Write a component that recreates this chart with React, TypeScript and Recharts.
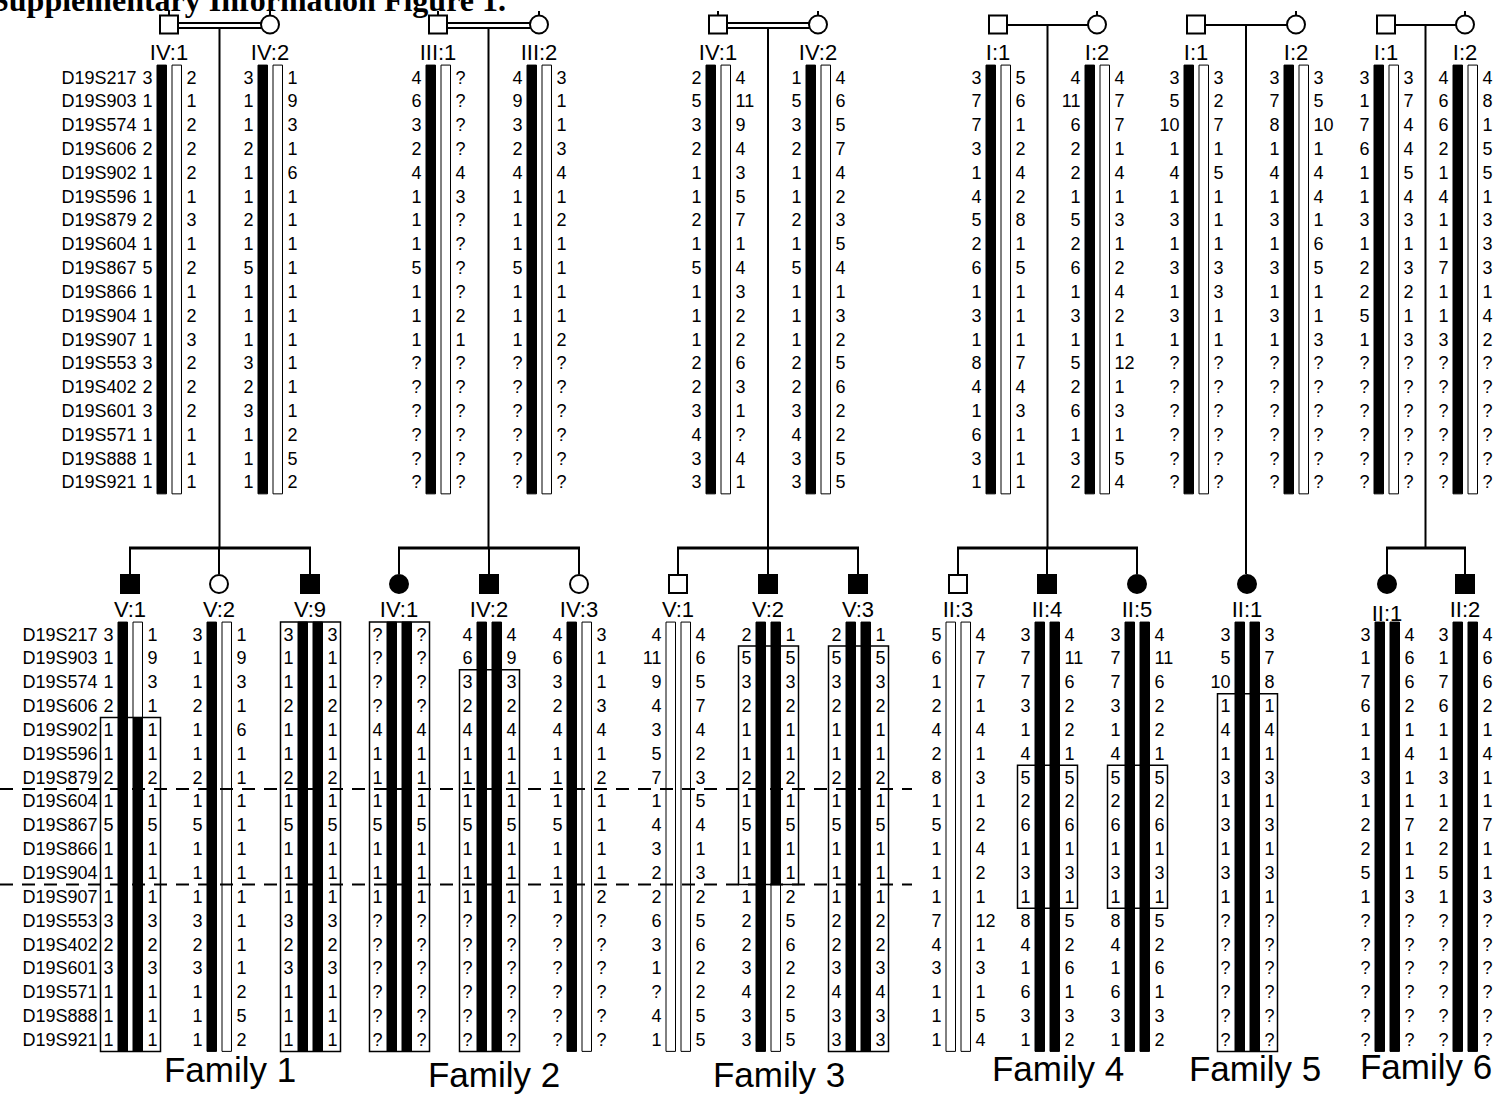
import React from 'react';
import { ScatterChart, Scatter, XAxis, YAxis, ReferenceArea, ReferenceLine, ReferenceDot } from 'recharts';

const h = (s: string) => s.split(' ');

const MARKERS = ['D19S217', 'D19S903', 'D19S574', 'D19S606', 'D19S902', 'D19S596', 'D19S879', 'D19S604', 'D19S867', 'D19S866', 'D19S904', 'D19S907', 'D19S553', 'D19S402', 'D19S601', 'D19S571', 'D19S888', 'D19S921'];

// Family 1
const F1_IV1_A = h('3 1 1 2 1 1 2 1 5 1 1 1 3 2 3 1 1 1');
const F1_IV1_B = h('2 1 2 2 2 1 3 1 2 1 2 3 2 2 2 1 1 1');
const F1_IV2_A = h('3 1 1 2 1 1 2 1 5 1 1 1 3 2 3 1 1 1');
const F1_IV2_B = h('1 9 3 1 6 1 1 1 1 1 1 1 1 1 1 2 5 2');
const F1_V1_A = h('3 1 1 2 1 1 2 1 5 1 1 1 3 2 3 1 1 1');
const F1_V1_B = h('1 9 3 1 1 1 2 1 5 1 1 1 3 2 3 1 1 1');
const F1_V2_A = h('3 1 1 2 1 1 2 1 5 1 1 1 3 2 3 1 1 1');
const F1_V2_B = h('1 9 3 1 6 1 1 1 1 1 1 1 1 1 1 2 5 2');
const F1_V9_A = h('3 1 1 2 1 1 2 1 5 1 1 1 3 2 3 1 1 1');
const F1_V9_B = h('3 1 1 2 1 1 2 1 5 1 1 1 3 2 3 1 1 1');
// Family 2
const F2_III1_A = h('4 6 3 2 4 1 1 1 5 1 1 1 ? ? ? ? ? ?');
const F2_III1_B = h('? ? ? ? 4 3 ? ? ? ? 2 1 ? ? ? ? ? ?');
const F2_III2_A = h('4 9 3 2 4 1 1 1 5 1 1 1 ? ? ? ? ? ?');
const F2_III2_B = h('3 1 1 3 4 1 2 1 1 1 1 2 ? ? ? ? ? ?');
const F2_IV1_A = h('? ? ? ? 4 1 1 1 5 1 1 1 ? ? ? ? ? ?');
const F2_IV1_B = h('? ? ? ? 4 1 1 1 5 1 1 1 ? ? ? ? ? ?');
const F2_IV2_A = h('4 6 3 2 4 1 1 1 5 1 1 1 ? ? ? ? ? ?');
const F2_IV2_B = h('4 9 3 2 4 1 1 1 5 1 1 1 ? ? ? ? ? ?');
const F2_IV3_A = h('4 6 3 2 4 1 1 1 5 1 1 1 ? ? ? ? ? ?');
const F2_IV3_B = h('3 1 1 3 4 1 2 1 1 1 1 2 ? ? ? ? ? ?');
// Family 3
const F3_IV1_A = h('2 5 3 2 1 1 2 1 5 1 1 1 2 2 3 4 3 3');
const F3_IV1_B = h('4 11 9 4 3 5 7 1 4 3 2 2 6 3 1 ? 4 1');
const F3_IV2_A = h('1 5 3 2 1 1 2 1 5 1 1 1 2 2 3 4 3 3');
const F3_IV2_B = h('4 6 5 7 4 2 3 5 4 1 3 2 5 6 2 2 5 5');
const F3_V1_A = h('4 11 9 4 3 5 7 1 4 3 2 2 6 3 1 ? 4 1');
const F3_V1_B = h('4 6 5 7 4 2 3 5 4 1 3 2 5 6 2 2 5 5');
const F3_V2_A = h('2 5 3 2 1 1 2 1 5 1 1 1 2 2 3 4 3 3');
const F3_V2_B = h('1 5 3 2 1 1 2 1 5 1 1 2 5 6 2 2 5 5');
const F3_V3_A = h('2 5 3 2 1 1 2 1 5 1 1 1 2 2 3 4 3 3');
const F3_V3_B = h('1 5 3 2 1 1 2 1 5 1 1 1 2 2 3 4 3 3');
// Family 4
const F4_I1_A = h('3 7 7 3 1 4 5 2 6 1 3 1 8 4 1 6 3 1');
const F4_I1_B = h('5 6 1 2 4 2 8 1 5 1 1 1 7 4 3 1 1 1');
const F4_I2_A = h('4 11 6 2 2 1 5 2 6 1 3 1 5 2 6 1 3 2');
const F4_I2_B = h('4 7 7 1 4 1 3 1 2 4 2 1 12 1 3 1 5 4');
const F4_II3_A = h('5 6 1 2 4 2 8 1 5 1 1 1 7 4 3 1 1 1');
const F4_II3_B = h('4 7 7 1 4 1 3 1 2 4 2 1 12 1 3 1 5 4');
const F4_II4_A = h('3 7 7 3 1 4 5 2 6 1 3 1 8 4 1 6 3 1');
const F4_II4_B = h('4 11 6 2 2 1 5 2 6 1 3 1 5 2 6 1 3 2');
const F4_II5_A = h('3 7 7 3 1 4 5 2 6 1 3 1 8 4 1 6 3 1');
const F4_II5_B = h('4 11 6 2 2 1 5 2 6 1 3 1 5 2 6 1 3 2');
// Family 5
const F5_I1_A = h('3 5 10 1 4 1 3 1 3 1 3 1 ? ? ? ? ? ?');
const F5_I1_B = h('3 2 7 1 5 1 1 1 3 3 1 1 ? ? ? ? ? ?');
const F5_I2_A = h('3 7 8 1 4 1 3 1 3 1 3 1 ? ? ? ? ? ?');
const F5_I2_B = h('3 5 10 1 4 4 1 6 5 1 1 3 ? ? ? ? ? ?');
const F5_II1_A = h('3 5 10 1 4 1 3 1 3 1 3 1 ? ? ? ? ? ?');
const F5_II1_B = h('3 7 8 1 4 1 3 1 3 1 3 1 ? ? ? ? ? ?');
// Family 6
const F6_I1_A = h('3 1 7 6 1 1 3 1 2 2 5 1 ? ? ? ? ? ?');
const F6_I1_B = h('3 7 4 4 5 4 3 1 3 2 1 3 ? ? ? ? ? ?');
const F6_I2_A = h('4 6 6 2 1 4 1 1 7 1 1 3 ? ? ? ? ? ?');
const F6_I2_B = h('4 8 1 5 5 1 3 3 3 1 4 2 ? ? ? ? ? ?');
const F6_II1_A = h('3 1 7 6 1 1 3 1 2 2 5 1 ? ? ? ? ? ?');
const F6_II1_B = h('4 6 6 2 1 4 1 1 7 1 1 3 ? ? ? ? ? ?');
const F6_II2_A = h('3 1 7 6 1 1 3 1 2 2 5 1 ? ? ? ? ? ?');
const F6_II2_B = h('4 6 6 2 1 4 1 1 7 1 1 3 ? ? ? ? ? ?');

const FAMILY_NAMES = ['Family 1', 'Family 2', 'Family 3', 'Family 4', 'Family 5', 'Family 6'];
const TITLE = 'Supplementary Information Figure 1.';

// ---------- layout ----------
const W = 1498;
const H = 1095;
type Tier = 'top' | 'bottom';
const TIERS: Record<Tier, { row0: number; step: number; symY: number; labelY: number }> = {
  top: { row0: 77, step: 23.82, symY: 24.5, labelY: 60 },
  bottom: { row0: 634, step: 23.85, symY: 584, labelY: 617 },
};
const rowY = (t: Tier, r: number) => TIERS[t].row0 + r * TIERS[t].step;

type Seg = [string, number, number];
const K: Seg[] = [['k', 0, 17]];
const Wt: Seg[] = [['w', 0, 17]];

interface Person {
  fam: number; tier: Tier; label: string; X: number; sex: 'm' | 'f'; aff: boolean;
  a: string[]; b: string[]; sa: Seg[]; sb: Seg[]; box?: [number, number]; markers?: boolean; labelDy?: number;
}

const PEOPLE: Person[] = [
  { fam: 0, tier: 'top', label: 'IV:1', X: 157, sex: 'm', aff: false, a: F1_IV1_A, b: F1_IV1_B, sa: K, sb: Wt, markers: true },
  { fam: 0, tier: 'top', label: 'IV:2', X: 258, sex: 'f', aff: false, a: F1_IV2_A, b: F1_IV2_B, sa: K, sb: Wt },
  { fam: 1, tier: 'top', label: 'III:1', X: 426, sex: 'm', aff: false, a: F2_III1_A, b: F2_III1_B, sa: K, sb: Wt },
  { fam: 1, tier: 'top', label: 'III:2', X: 527, sex: 'f', aff: false, a: F2_III2_A, b: F2_III2_B, sa: K, sb: Wt },
  { fam: 2, tier: 'top', label: 'IV:1', X: 706, sex: 'm', aff: false, a: F3_IV1_A, b: F3_IV1_B, sa: K, sb: Wt },
  { fam: 2, tier: 'top', label: 'IV:2', X: 806, sex: 'f', aff: false, a: F3_IV2_A, b: F3_IV2_B, sa: K, sb: Wt },
  { fam: 3, tier: 'top', label: 'I:1', X: 986, sex: 'm', aff: false, a: F4_I1_A, b: F4_I1_B, sa: K, sb: Wt },
  { fam: 3, tier: 'top', label: 'I:2', X: 1085, sex: 'f', aff: false, a: F4_I2_A, b: F4_I2_B, sa: K, sb: Wt },
  { fam: 4, tier: 'top', label: 'I:1', X: 1184, sex: 'm', aff: false, a: F5_I1_A, b: F5_I1_B, sa: K, sb: Wt },
  { fam: 4, tier: 'top', label: 'I:2', X: 1284, sex: 'f', aff: false, a: F5_I2_A, b: F5_I2_B, sa: K, sb: Wt },
  { fam: 5, tier: 'top', label: 'I:1', X: 1374, sex: 'm', aff: false, a: F6_I1_A, b: F6_I1_B, sa: K, sb: Wt },
  { fam: 5, tier: 'top', label: 'I:2', X: 1453, sex: 'f', aff: false, a: F6_I2_A, b: F6_I2_B, sa: K, sb: Wt },

  { fam: 0, tier: 'bottom', label: 'V:1', X: 118, sex: 'm', aff: true, a: F1_V1_A, b: F1_V1_B, sa: K, sb: [['w', 0, 3], ['k', 4, 17]], box: [4, 17], markers: true },
  { fam: 0, tier: 'bottom', label: 'V:2', X: 207, sex: 'f', aff: false, a: F1_V2_A, b: F1_V2_B, sa: K, sb: Wt },
  { fam: 0, tier: 'bottom', label: 'V:9', X: 298, sex: 'm', aff: true, a: F1_V9_A, b: F1_V9_B, sa: K, sb: K, box: [0, 17] },
  { fam: 1, tier: 'bottom', label: 'IV:1', X: 387, sex: 'f', aff: true, a: F2_IV1_A, b: F2_IV1_B, sa: K, sb: K, box: [0, 17] },
  { fam: 1, tier: 'bottom', label: 'IV:2', X: 477, sex: 'm', aff: true, a: F2_IV2_A, b: F2_IV2_B, sa: K, sb: K, box: [2, 17] },
  { fam: 1, tier: 'bottom', label: 'IV:3', X: 567, sex: 'f', aff: false, a: F2_IV3_A, b: F2_IV3_B, sa: K, sb: Wt },
  { fam: 2, tier: 'bottom', label: 'V:1', X: 666, sex: 'm', aff: false, a: F3_V1_A, b: F3_V1_B, sa: Wt, sb: Wt },
  { fam: 2, tier: 'bottom', label: 'V:2', X: 756, sex: 'm', aff: true, a: F3_V2_A, b: F3_V2_B, sa: K, sb: [['k', 0, 10], ['w', 11, 17]], box: [1, 10] },
  { fam: 2, tier: 'bottom', label: 'V:3', X: 846, sex: 'm', aff: true, a: F3_V3_A, b: F3_V3_B, sa: K, sb: K, box: [1, 17] },
  { fam: 3, tier: 'bottom', label: 'II:3', X: 946, sex: 'm', aff: false, a: F4_II3_A, b: F4_II3_B, sa: Wt, sb: Wt },
  { fam: 3, tier: 'bottom', label: 'II:4', X: 1035, sex: 'm', aff: true, a: F4_II4_A, b: F4_II4_B, sa: K, sb: K, box: [6, 11] },
  { fam: 3, tier: 'bottom', label: 'II:5', X: 1125, sex: 'f', aff: true, a: F4_II5_A, b: F4_II5_B, sa: K, sb: K, box: [6, 11] },
  { fam: 4, tier: 'bottom', label: 'II:1', X: 1235, sex: 'f', aff: true, a: F5_II1_A, b: F5_II1_B, sa: K, sb: K, box: [3, 17] },
  { fam: 5, tier: 'bottom', label: 'II:1', X: 1375, sex: 'f', aff: true, a: F6_II1_A, b: F6_II1_B, sa: K, sb: K, labelDy: 4 },
  { fam: 5, tier: 'bottom', label: 'II:2', X: 1453, sex: 'm', aff: true, a: F6_II2_A, b: F6_II2_B, sa: K, sb: K },
];

const FAM_LAYOUT = [
  { double: true, stubs: 'both', lx: 230, ly: 1082 },
  { double: true, stubs: 'both', lx: 494, ly: 1087 },
  { double: true, stubs: 'both', lx: 779, ly: 1087 },
  { double: false, stubs: 'mother', lx: 1058, ly: 1081 },
  { double: false, stubs: 'mother', lx: 1255, ly: 1081 },
  { double: false, stubs: 'mother', lx: 1426, ly: 1079 },
];

const SIB_Y = 548;
const SANS = "'Liberation Sans', Arial, Helvetica, sans-serif";
const SERIF = "'Liberation Serif', 'Times New Roman', serif";
const cx = (p: Person) => p.X + 12;

// ---------- build marks ----------
interface TextPt { x: number; y: number; t: string; anchor: string; size: number; dy: number; dx?: number; weight?: string; family?: string }
interface Area { x1: number; x2: number; y1: number; y2: number; fill: string; stroke: string; sw: number }
interface Seg2 { x1: number; y1: number; x2: number; y2: number; sw: number; dash?: string }
interface Dot { x: number; y: number; fill: string }

const texts: TextPt[] = [];
const barAreas: Area[] = [];
const boxAreas: Area[] = [];
const symAreas: Area[] = [];
const dots: Dot[] = [];
const lines: Seg2[] = [];

PEOPLE.forEach((p) => {
  const T = TIERS[p.tier];
  for (let r = 0; r < 18; r++) {
    const y = rowY(p.tier, r);
    if (p.markers) texts.push({ x: p.X - 20.5, y, t: MARKERS[r], anchor: 'end', size: 18, dy: 6.5 });
    texts.push({ x: p.X - 4.5, y, t: p.a[r], anchor: 'end', size: 18, dy: 6.5 });
    texts.push({ x: p.X + 29.5, y, t: p.b[r], anchor: 'start', size: 18, dy: 6.5 });
  }
  texts.push({ x: cx(p), y: T.labelY + (p.labelDy || 0), t: p.label, anchor: 'middle', size: 22, dy: 0 });
  const half = T.step / 2;
  const addBar = (segs: Seg[], x0: number) =>
    segs.forEach(([c, r1, r2]) =>
      barAreas.push({
        x1: x0, x2: x0 + 9.5, y1: rowY(p.tier, r1) - half, y2: rowY(p.tier, r2) + half,
        fill: c === 'k' ? '#000' : '#fff', stroke: '#000', sw: 1,
      }),
    );
  addBar(p.sa, p.X);
  addBar(p.sb, p.X + 15);
  if (p.box) {
    boxAreas.push({
      x1: p.X - 17.5, x2: p.X + 42.5,
      y1: rowY(p.tier, p.box[0]) - half, y2: rowY(p.tier, p.box[1]) + half,
      fill: 'none', stroke: '#000', sw: 1.5,
    });
  }
  const c = cx(p);
  const fill = p.aff ? '#000' : '#fff';
  if (p.sex === 'm') symAreas.push({ x1: c - 9, x2: c + 9, y1: T.symY - 9, y2: T.symY + 9, fill, stroke: '#000', sw: 2 });
  else dots.push({ x: c, y: T.symY, fill });
});

FAM_LAYOUT.forEach((f, i) => {
  const parents = PEOPLE.filter((p) => p.fam === i && p.tier === 'top');
  const father = parents.find((p) => p.sex === 'm')!;
  const mother = parents.find((p) => p.sex === 'f')!;
  const fc = cx(father);
  const mc = cx(mother);
  const mid = (fc + mc) / 2;
  const sy = TIERS.top.symY;
  if (f.double) {
    lines.push({ x1: fc + 9, y1: sy - 1.5, x2: mc - 9, y2: sy - 1.5, sw: 2 });
    lines.push({ x1: fc + 9, y1: sy + 3.5, x2: mc - 9, y2: sy + 3.5, sw: 2 });
  } else {
    lines.push({ x1: fc + 9, y1: sy + 0.5, x2: mc - 9, y2: sy + 0.5, sw: 2 });
  }
  const kids = PEOPLE.filter((p) => p.fam === i && p.tier === 'bottom');
  const kidTop = TIERS.bottom.symY - 10;
  lines.push({ x1: mid, y1: sy + (f.double ? 4.5 : 1.5), x2: mid, y2: kids.length > 1 ? SIB_Y : kidTop, sw: 2 });
  if (f.stubs === 'both') lines.push({ x1: fc, y1: 11, x2: fc, y2: sy - 9, sw: 2 });
  lines.push({ x1: mc, y1: 11, x2: mc, y2: sy - 9, sw: 2 });
  if (kids.length > 1) {
    const xs = kids.map(cx);
    lines.push({ x1: Math.min(...xs) - 1, y1: SIB_Y, x2: Math.max(...xs) + 1, y2: SIB_Y, sw: 3 });
    xs.forEach((x) => lines.push({ x1: x, y1: SIB_Y, x2: x, y2: kidTop, sw: 2 }));
  }
  texts.push({ x: f.lx, y: f.ly, t: FAMILY_NAMES[i], anchor: 'middle', size: 35, dy: 0 });
});

const dashYs = [rowY('bottom', 6.5), rowY('bottom', 10.5)];
const dashLines: Seg2[] = dashYs.map((y) => ({ x1: 0, y1: y, x2: 912, y2: y, sw: 2, dash: '13 9' }));

texts.push({ x: 0, y: 11, dx: -9, t: TITLE, anchor: 'start', size: 32, dy: 0, weight: 'bold', family: SERIF });

const TextShape = (props: any) => {
  const { cx: px, cy: py, payload } = props;
  if (px == null || py == null) return null;
  return (
    <text
      x={px + (payload.dx || 0)}
      y={py + payload.dy}
      textAnchor={payload.anchor}
      fontSize={payload.size}
      fontWeight={payload.weight || 'normal'}
      fontFamily={payload.family || SANS}
      fill="#000"
    >
      {payload.t}
    </text>
  );
};

export default function App() {
  return (
    <div style={{ position: 'absolute', left: 0, top: 0, width: W, height: H, background: '#fff' }}>
      <ScatterChart width={W} height={H} margin={{ top: 0, right: 0, bottom: 0, left: 0 }}>
        <XAxis type="number" dataKey="x" domain={[0, W]} allowDataOverflow hide />
        <YAxis type="number" dataKey="y" domain={[0, H]} reversed allowDataOverflow hide />
        {barAreas.map((a, i) => (
          <ReferenceArea key={'b' + i} x1={a.x1} x2={a.x2} y1={a.y1} y2={a.y2} fill={a.fill} fillOpacity={1} stroke={a.stroke} strokeWidth={a.sw} strokeOpacity={1} ifOverflow="visible" />
        ))}
        {boxAreas.map((a, i) => (
          <ReferenceArea key={'x' + i} x1={a.x1} x2={a.x2} y1={a.y1} y2={a.y2} fill="none" fillOpacity={0} stroke={a.stroke} strokeWidth={a.sw} strokeOpacity={1} ifOverflow="visible" />
        ))}
        {symAreas.map((a, i) => (
          <ReferenceArea key={'s' + i} x1={a.x1} x2={a.x2} y1={a.y1} y2={a.y2} fill={a.fill} fillOpacity={1} stroke={a.stroke} strokeWidth={a.sw} strokeOpacity={1} ifOverflow="visible" />
        ))}
        {lines.map((l, i) => (
          <ReferenceLine key={'l' + i} segment={[{ x: l.x1, y: l.y1 }, { x: l.x2, y: l.y2 }]} stroke="#000" strokeWidth={l.sw} ifOverflow="visible" />
        ))}
        {dashLines.map((l, i) => (
          <ReferenceLine key={'d' + i} segment={[{ x: l.x1, y: l.y1 }, { x: l.x2, y: l.y2 }]} stroke="#000" strokeWidth={l.sw} strokeDasharray={l.dash} ifOverflow="visible" />
        ))}
        {dots.map((d, i) => (
          <ReferenceDot key={'c' + i} x={d.x} y={d.y} r={9} fill={d.fill} fillOpacity={1} stroke="#000" strokeWidth={2} ifOverflow="visible" />
        ))}
        <Scatter data={texts} shape={TextShape} isAnimationActive={false} />
      </ScatterChart>
    </div>
  );
}
